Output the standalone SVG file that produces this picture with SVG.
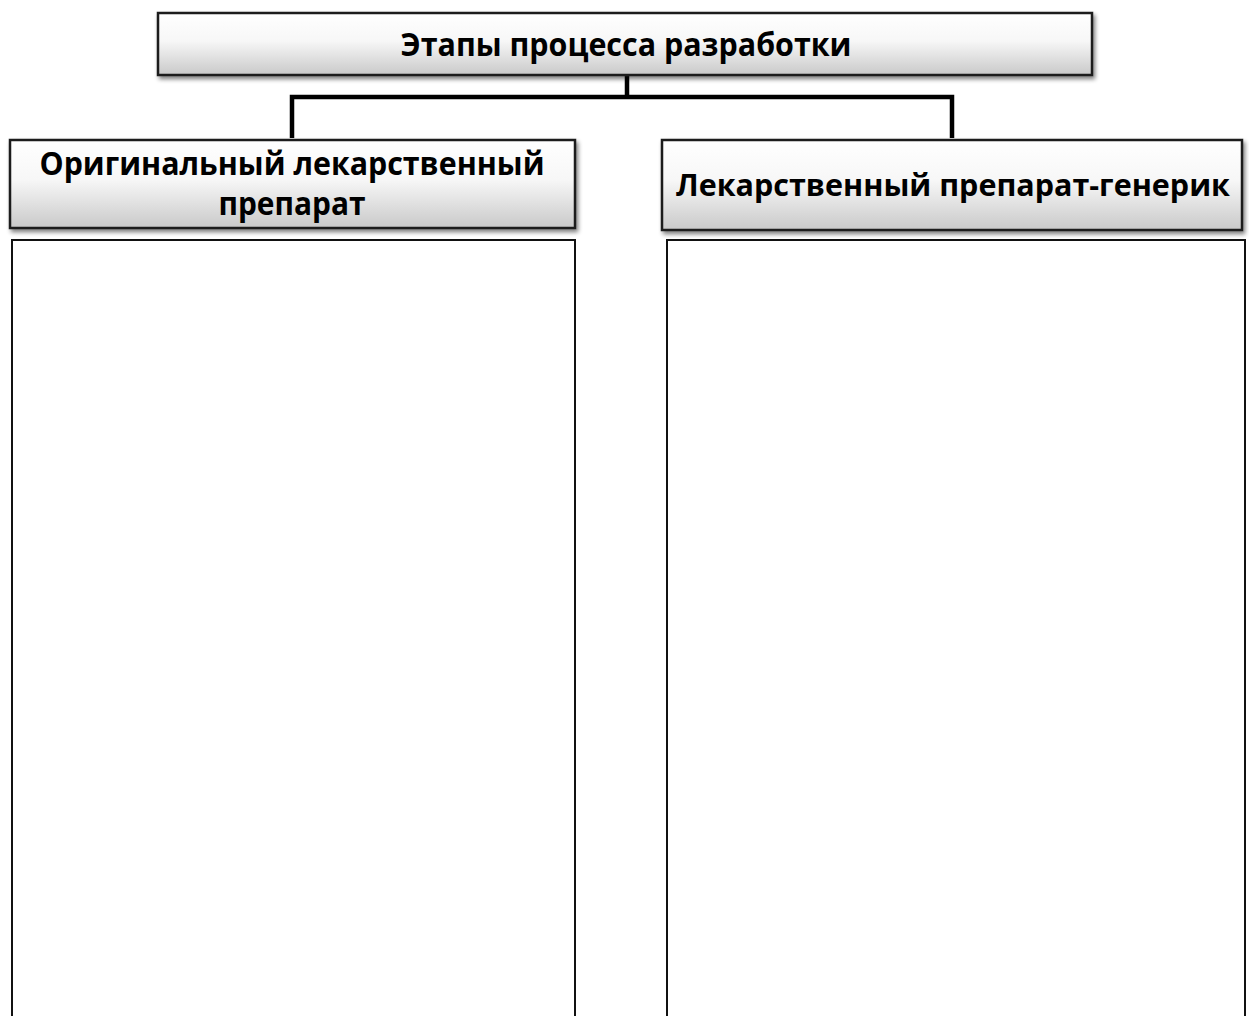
<svg xmlns="http://www.w3.org/2000/svg" width="1249" height="1016" viewBox="0 0 1249 1016">
<style>
.hdr{fill:url(#g);stroke:#1a1a1a;stroke-width:2.5;filter:url(#sh)}
.body{fill:#fff;stroke:#111;stroke-width:2}
.t{font-family:"Open Sans","Liberation Sans",sans-serif;font-weight:bold;fill:#000;text-anchor:middle;font-size:32px}
.conn{fill:none;stroke:#000;stroke-width:4.5;stroke-linejoin:miter}
</style>
<defs>
<linearGradient id="g" x1="0" y1="0" x2="0" y2="1">
<stop offset="0" stop-color="#ffffff"/>
<stop offset="0.45" stop-color="#f7f7f7"/>
<stop offset="1" stop-color="#c9c9c9"/>
</linearGradient>
<filter id="sh" x="-5%" y="-20%" width="115%" height="150%">
<feGaussianBlur in="SourceAlpha" stdDeviation="2"/>
<feOffset dx="2" dy="3" result="b"/>
<feComponentTransfer><feFuncA type="linear" slope="0.5"/></feComponentTransfer>
<feMerge><feMergeNode/><feMergeNode in="SourceGraphic"/></feMerge>
</filter>
</defs>
<rect width="1249" height="1016" fill="#fff"/>
<g id="connectors">
<path class="conn" d="M627 75 V97 M292 138 V97 H952 V138"/>
</g>
<g id="title">
<rect class="hdr" x="158" y="13" width="934" height="62"/>
<text class="t" x="626" y="56" textLength="451" lengthAdjust="spacingAndGlyphs">Этапы процесса разработки</text>
</g>
<g id="original">
<rect class="hdr" x="10" y="140" width="565" height="88"/>
<text class="t" x="292" y="175" textLength="505" lengthAdjust="spacingAndGlyphs">Оригинальный лекарственный</text>
<text class="t" x="292" y="215" textLength="147" lengthAdjust="spacingAndGlyphs">препарат</text>
</g>
<g id="generic">
<rect class="hdr" x="662" y="140" width="580" height="90"/>
<text class="t" x="953" y="196" font-size="30" style="font-size:30px" textLength="554" lengthAdjust="spacingAndGlyphs">Лекарственный препарат-генерик</text>
</g>
<g id="original-body">
<rect class="body" x="12" y="240" width="563" height="790"/>
</g>
<g id="generic-body">
<rect class="body" x="667" y="240" width="578" height="790"/>
</g>
</svg>
